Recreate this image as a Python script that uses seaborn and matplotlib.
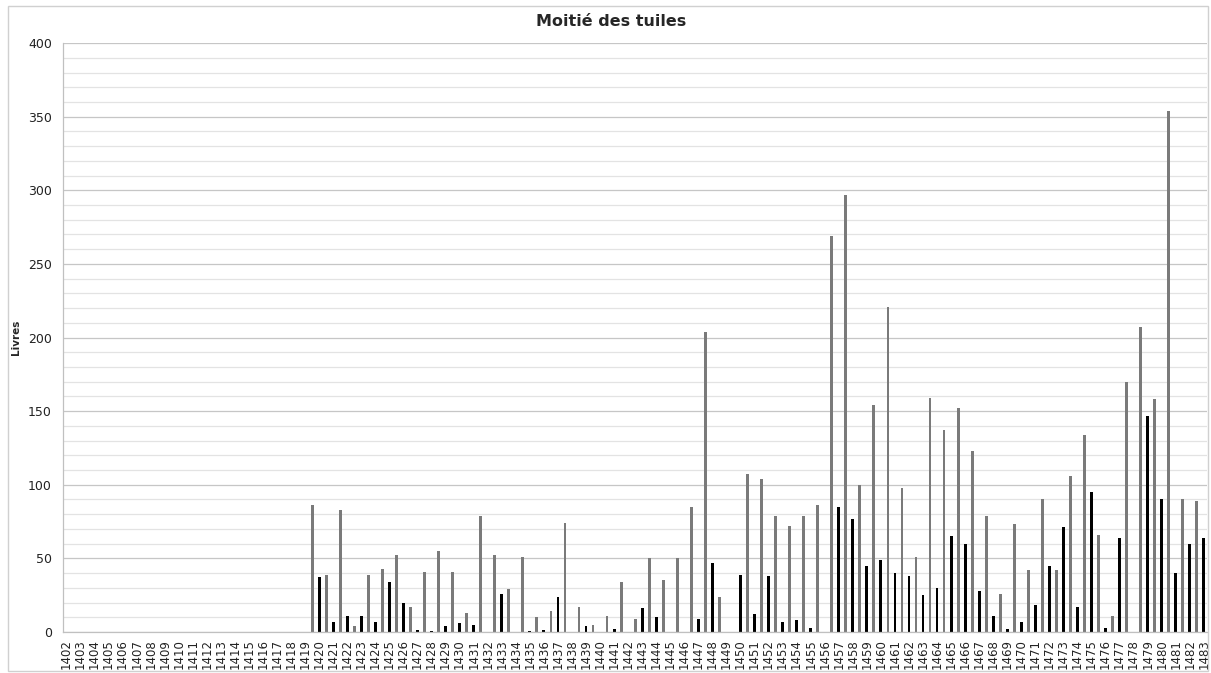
import pandas as pd
import numpy as np
import matplotlib
matplotlib.use("Agg")
import matplotlib.pyplot as plt
import seaborn as sns
from matplotlib.patches import Rectangle
from matplotlib.ticker import MultipleLocator, FixedLocator

# Données (livres)
annees = list(range(1402, 1484))

# barres grises (1403 -> 1483), placées avant le libellé de l'année
gris = [0, 0, 0, 0, 0, 0, 0, 0, 0, 0, 0, 0, 0, 0, 0, 0, 0,
        86, 39, 83, 4, 39, 43, 52, 17, 41, 55,
        41, 13, 79, 52, 29, 51, 10, 14, 74, 17,
        5, 11, 34, 9, 50, 35, 50, 85, 204, 24,
        0, 107, 104, 79, 72, 79, 86, 269, 297, 100,
        154, 221, 98, 51, 159, 137, 152, 123, 79, 26,
        73, 42, 90, 42, 106, 134, 66, 11, 170, 207,
        158, 354, 90, 89]

# barres noires (1402 -> 1483), sous le libellé de l'année
noir = [0, 0, 0, 0, 0, 0, 0, 0, 0, 0, 0, 0, 0, 0, 0, 0, 0, 0,
        37, 7, 11, 11, 7, 34, 20, 1, 0.5, 4,
        6, 5, 0, 26, 0, 0.5, 1, 24, 0, 4,
        0, 2, 0, 16, 10, 0, 0, 9, 47, 0,
        39, 12, 38, 7, 8, 3, 0, 85, 77, 45,
        49, 40, 38, 25, 30, 65, 60, 28, 11, 2,
        7, 18, 45, 71, 17, 95, 3, 64, 0, 147,
        90, 40, 60, 64]

# Table longue : une case par demi-année
lignes = []
for i, an in enumerate(annees):
    if i > 0:
        lignes.append({"annee": an, "serie": "gris", "valeur": gris[i - 1]})
    lignes.append({"annee": an, "serie": "noir", "valeur": noir[i]})
df = pd.DataFrame(lignes)
df["pos"] = range(len(df))

sns.set_style("white")
plt.rcParams["font.family"] = ["DejaVu Sans"]

fig = plt.figure(figsize=(12.11, 6.73), dpi=100)
ax = fig.add_axes([0.052, 0.061, 0.945, 0.875])

sns.barplot(data=df, x="pos", y="valeur", hue="serie", order=list(df["pos"]),
            palette={"gris": "#7a7a7a", "noir": "#000000"}, dodge=False,
            width=0.4, saturation=1, legend=False, edgecolor="none",
            linewidth=0, ax=ax)

n = len(df)
ax.set_xlim(-0.5, n - 0.5)
ax.set_ylim(0, 400)

# Axe y : graduations principales tous les 50, secondaires tous les 10
ax.yaxis.set_major_locator(MultipleLocator(50))
ax.yaxis.set_minor_locator(MultipleLocator(10))
ax.grid(which="major", axis="y", color="#c6c6c6", linewidth=0.9)
ax.grid(which="minor", axis="y", color="#e3e3e3", linewidth=0.9)
ax.grid(False, axis="x")
ax.set_axisbelow(True)
ax.tick_params(axis="y", which="major", length=4, color="#bdbdbd",
               labelsize=9, labelcolor="#222222", pad=4)
ax.tick_params(axis="y", which="minor", length=0)

# Axe x : libellé sous chaque barre noire, taquets entre les cases
pos_lab = df.loc[df["serie"] == "noir", "pos"].tolist()
ax.xaxis.set_major_locator(FixedLocator(pos_lab))
ax.set_xticklabels([str(a) for a in annees], rotation=90)
ax.xaxis.set_minor_locator(FixedLocator(np.arange(-0.5, n, 1.0)))
ax.tick_params(axis="x", which="major", length=0, labelsize=8.5,
               labelcolor="#222222", pad=5)
ax.tick_params(axis="x", which="minor", length=4, color="#bdbdbd")

for s in ["top", "right"]:
    ax.spines[s].set_visible(False)
for s in ["left", "bottom"]:
    ax.spines[s].set_color("#c0c0c0")
    ax.spines[s].set_linewidth(0.9)

ax.set_xlabel("")
ax.set_ylabel("Livres", fontsize=7.5, fontweight="bold", labelpad=5)

fig.text(0.505, 1 - 22 / 673, "Moitié des tuiles", ha="center", va="center",
         fontsize=11.5, fontweight="bold")

# Cadre de la zone de graphique
fig.patches.append(Rectangle((8 / 1211, 2 / 673), 1200 / 1211, 665 / 673,
                             transform=fig.transFigure, fill=False,
                             edgecolor="#d0d0d0", linewidth=1))

fig.savefig("out.png", dpi=100)
plt.close(fig)
